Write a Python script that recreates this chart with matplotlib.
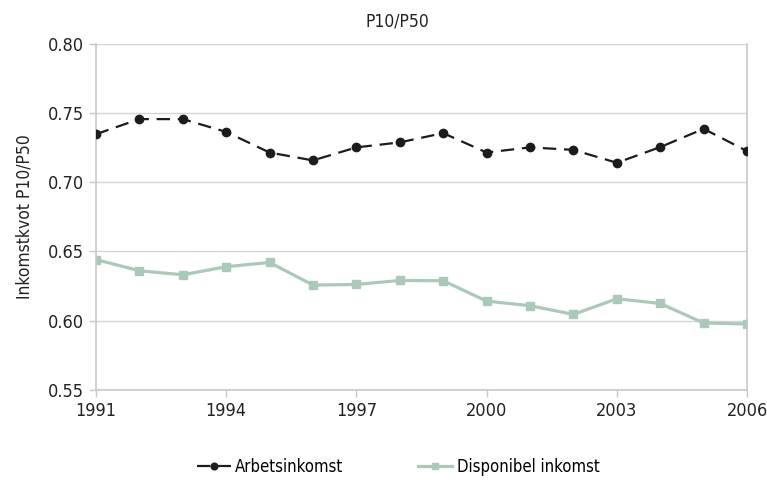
import matplotlib.pyplot as plt
from matplotlib import font_manager


names = {f.name for f in font_manager.fontManager.ttflist}
if 'Liberation Sans Narrow' in names:
    plt.rcParams['font.family'] = ['Liberation Sans Narrow', 'DejaVu Sans']
else:
    plt.rcParams['font.family'] = ['DejaVu Sans']
    plt.rcParams['font.stretch'] = 'condensed'


years = list(range(1991, 2007))
arbetsinkomst = [0.7346, 0.7455, 0.7455, 0.7363, 0.7214, 0.7157, 0.7251, 0.7287,
                 0.7354, 0.7214, 0.7251, 0.7233, 0.7140, 0.7253, 0.7385, 0.7224]
disponibel = [0.6442, 0.6361, 0.6332, 0.6390, 0.6421, 0.6258, 0.6262, 0.6291,
              0.6289, 0.6142, 0.6109, 0.6046, 0.6159, 0.6125, 0.5984, 0.5977]
xticks = [1991, 1994, 1997, 2000, 2003, 2006]
yticks = [0.55, 0.60, 0.65, 0.70, 0.75, 0.80]

black = '#1c1c1c'
green = '#abc9b9'
grid = '#d4d4d4'


fig = plt.figure(figsize=(7.67, 4.84), dpi=100)
ax = fig.add_axes([0.125, 0.194, 0.849, 0.716])

ax.plot(years, arbetsinkomst, color=black, lw=1.6, dashes=(6, 3.5),
        marker='o', ms=6, label='Arbetsinkomst', zorder=3)
ax.plot(years, disponibel, color=green, lw=2.3,
        marker='s', ms=6, label='Disponibel inkomst', zorder=2)

ax.set_xlim(1991, 2006)
ax.set_ylim(0.55, 0.80)
ax.set_xticks(xticks)
ax.set_yticks(yticks)
ax.set_yticklabels([f'{v:.2f}' for v in yticks])
ax.yaxis.grid(True, color=grid, lw=1)
ax.set_axisbelow(True)

for side in ['left', 'right', 'bottom']:
    ax.spines[side].set_color('#c8c8c8')
    ax.spines[side].set_linewidth(1.2)
ax.spines['top'].set_visible(False)
ax.tick_params(axis='both', colors='#c8c8c8', labelcolor='#222222',
               labelsize=13, length=5, width=1)

ax.set_ylabel('Inkomstkvot P10/P50', fontsize=12.5, color='#222222', labelpad=10)
fig.text(0.518, 0.956, 'P10/P50', fontsize=12.5, color='#222222',
         ha='center', va='center')

fig.legend(loc='center', bbox_to_anchor=(0.519, 0.035), ncol=2, frameon=False,
           fontsize=12, handlelength=2.05, handletextpad=0.25, columnspacing=4.5,
           markerscale=0.8)

fig.savefig('out.png', dpi=100)
